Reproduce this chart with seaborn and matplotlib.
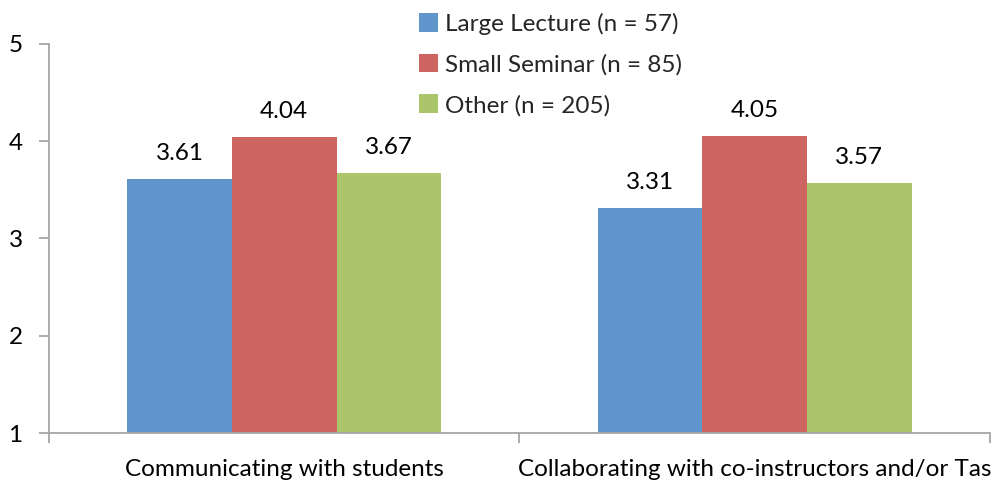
import matplotlib
matplotlib.use("Agg")
import matplotlib.pyplot as plt
import seaborn as sns
import pandas as pd

categories = ["Communicating with students", "Collaborating with co-instructors and/or Tas"]
series = ["Large Lecture (n = 57)", "Small Seminar (n = 85)", "Other (n = 205)"]
large_lecture = [3.61, 3.31]
small_seminar = [4.04, 4.05]
other = [3.67, 3.57]
colors = ["#5F96CB", "#CD6560", "#AAC56A"]

rows = []
for name, vals in zip(series, [large_lecture, small_seminar, other]):
    for cat, v in zip(categories, vals):
        rows.append({"category": cat, "group": name, "score": v})
df = pd.DataFrame(rows)

sns.set_theme(style="white")
plt.rcParams["font.family"] = ["Lato", "DejaVu Sans"]
FS = 17.5

fig = plt.figure(figsize=(9.95, 4.83), dpi=100)
ax = fig.add_axes([49 / 995, 1 - 433 / 483, (990 - 49) / 995, (433 - 44) / 483])

sns.barplot(data=df, x="category", y="score", hue="group", hue_order=series,
            palette=colors, width=0.667, saturation=1, linewidth=0,
            errorbar=None, ax=ax)

# Value labels above every bar
for cont in ax.containers:
    ax.bar_label(cont, fmt="%.2f", padding=11, fontsize=FS, color="black")

ax.set_ylim(1, 5)
ax.set_xlim(-0.5, 1.5)
ax.set_yticks([1, 2, 3, 4, 5])
ax.set_xlabel("")
ax.set_ylabel("")

spine_color = "#A6A6A6"
for side in ["top", "right"]:
    ax.spines[side].set_visible(False)
for side in ["left", "bottom"]:
    ax.spines[side].set_color(spine_color)
    ax.spines[side].set_linewidth(1.3)

ax.tick_params(axis="y", which="major", left=True, length=7, width=1.3,
               color=spine_color, labelsize=FS, pad=12, labelcolor="black")
ax.tick_params(axis="x", which="major", bottom=False, labelsize=FS, pad=13,
               labelcolor="black")
ax.set_xticks([-0.5, 0.5, 1.5], minor=True)
ax.tick_params(axis="x", which="minor", bottom=True, length=7, width=1.3,
               color=spine_color)

ax.legend(loc="upper left", bbox_to_anchor=(0.383, 1.105), frameon=False,
          fontsize=FS, handlelength=0.78, handleheight=0.78, handletextpad=0.3,
          labelspacing=0.78, borderaxespad=0)

fig.savefig("out.png", dpi=100)
